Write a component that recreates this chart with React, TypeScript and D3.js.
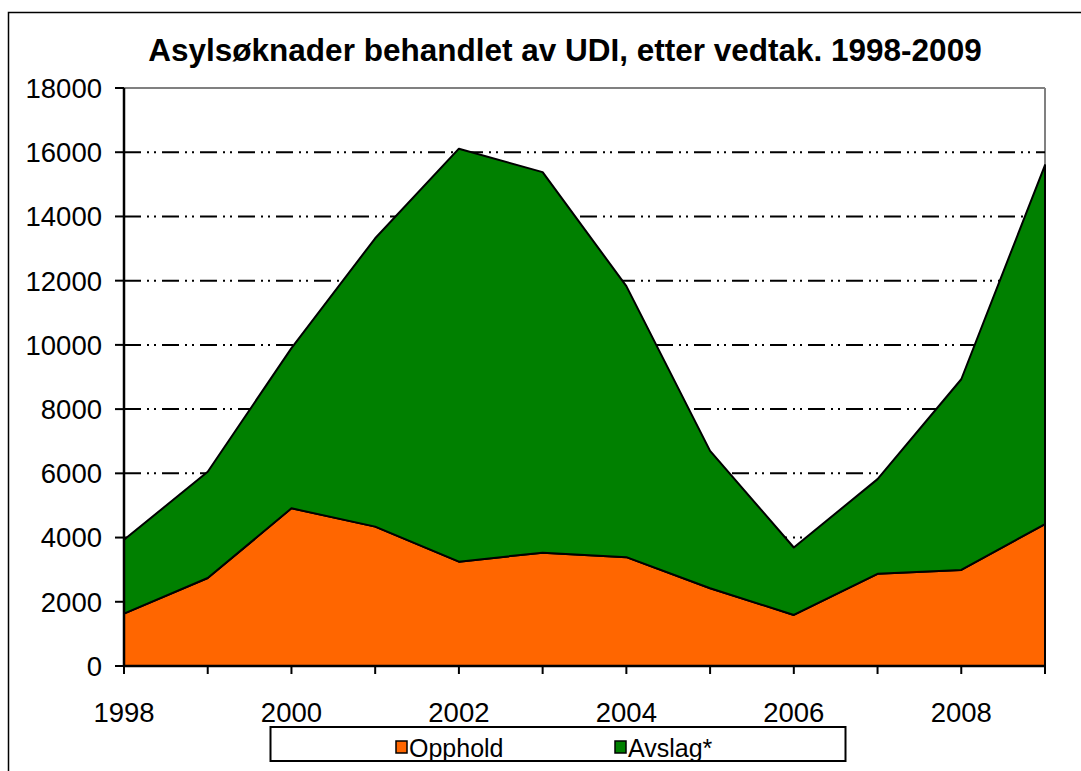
import React, { useMemo } from 'react';
import * as d3 from 'd3';

const years = [1998, 1999, 2000, 2001, 2002, 2003, 2004, 2005, 2006, 2007, 2008, 2009];
const opphold = [1630, 2740, 4910, 4340, 3250, 3530, 3390, 2420, 1590, 2870, 2990, 4420];
const avslag = [2300, 3310, 4990, 8980, 12860, 11850, 8440, 4280, 2100, 2950, 5940, 11180];
const yTicks = [0, 2000, 4000, 6000, 8000, 10000, 12000, 14000, 16000, 18000];
const xLabels = [1998, 2000, 2002, 2004, 2006, 2008];
const seriesNames = ['Opphold', 'Avslag*'];

const COLORS = ['#FF6600', '#008000'];
const FONT = '"Liberation Sans", Arial, sans-serif';

export default function App() {
  const width = 1081;
  const height = 771;
  const MARGIN = { top: 88, right: 36, bottom: 105, left: 124 };
  const boundsWidth = width - MARGIN.left - MARGIN.right;
  const boundsHeight = height - MARGIN.top - MARGIN.bottom;

  const rows = years.map((y, i) => ({ year: y, opphold: opphold[i], avslag: avslag[i] }));

  const xScale = useMemo(
    () => d3.scaleLinear().domain([1998, 2009]).range([0, boundsWidth]),
    [boundsWidth]
  );
  const yScale = useMemo(
    () => d3.scaleLinear().domain([0, 18000]).range([boundsHeight, 0]),
    [boundsHeight]
  );

  const stacked = d3.stack<any>().keys(['opphold', 'avslag'])(rows);
  const area = d3
    .area<any>()
    .x((d) => xScale(d.data.year))
    .y0((d) => yScale(d[0]))
    .y1((d) => yScale(d[1]));

  const grid = yTicks
    .filter((v) => v > 0 && v < 18000)
    .map((v) => (
      <line
        key={v}
        x1={0}
        x2={boundsWidth}
        y1={yScale(v)}
        y2={yScale(v)}
        stroke="#000"
        strokeWidth={2}
        strokeDasharray="17 6 2 5 2 6"
      />
    ));

  return (
    <div style={{ position: 'absolute', left: 0, top: 0 }}>
      <svg width={width} height={height} style={{ display: 'block' }}>
        <rect x={0} y={0} width={width} height={height} fill="#fff" />
        <rect x={8.5} y={12.5} width={1200} height={900} fill="#fff" stroke="#000" strokeWidth={1.5} />
        <text
          x={565}
          y={61}
          textAnchor="middle"
          fontFamily={FONT}
          fontWeight="bold"
          fontSize={31.5}
          fill="#000"
        >
          Asylsøknader behandlet av UDI, etter vedtak. 1998-2009
        </text>
        <g transform={`translate(${MARGIN.left},${MARGIN.top})`}>
          <line x1={0} x2={boundsWidth} y1={0} y2={0} stroke="#808080" strokeWidth={2} />
          <line x1={boundsWidth} x2={boundsWidth} y1={0} y2={boundsHeight} stroke="#808080" strokeWidth={2} />
          {grid}
          {stacked.map((s, i) => (
            <path
              key={s.key}
              d={area(s) ?? ''}
              fill={COLORS[i]}
              stroke="#000"
              strokeWidth={2}
              strokeLinejoin="round"
            />
          ))}
          {/* y axis */}
          <line x1={0} x2={0} y1={0} y2={boundsHeight} stroke="#000" strokeWidth={2.5} />
          {yTicks.map((v) => (
            <g key={v}>
              <line x1={-9} x2={0} y1={yScale(v)} y2={yScale(v)} stroke="#000" strokeWidth={2} />
              <text
                x={-22}
                y={yScale(v)}
                dy="0.36em"
                textAnchor="end"
                fontFamily={FONT}
                fontSize={27.5}
                fill="#000"
              >
                {v}
              </text>
            </g>
          ))}
          {/* x axis */}
          <line x1={0} x2={boundsWidth} y1={boundsHeight} y2={boundsHeight} stroke="#000" strokeWidth={2.5} />
          {years.map((y) => (
            <line
              key={y}
              x1={xScale(y)}
              x2={xScale(y)}
              y1={boundsHeight}
              y2={boundsHeight + 8}
              stroke="#000"
              strokeWidth={2}
            />
          ))}
          {xLabels.map((y) => (
            <text
              key={y}
              x={xScale(y)}
              y={boundsHeight + 56}
              textAnchor="middle"
              fontFamily={FONT}
              fontSize={27.5}
              fill="#000"
            >
              {y}
            </text>
          ))}
        </g>
        {/* legend */}
        <g>
          <rect x={270.5} y={727} width={575} height={34} fill="#fff" stroke="#000" strokeWidth={2} />
          {seriesNames.map((name, i) => (
            <g key={name} transform={`translate(${396 + i * 219},0)`}>
              <rect x={0} y={741} width={11} height={12} fill={COLORS[i]} stroke="#000" strokeWidth={1.5} />
              <text x={13} y={757} fontFamily={FONT} fontSize={25} fill="#000">
                {name}
              </text>
            </g>
          ))}
        </g>
      </svg>
    </div>
  );
}
